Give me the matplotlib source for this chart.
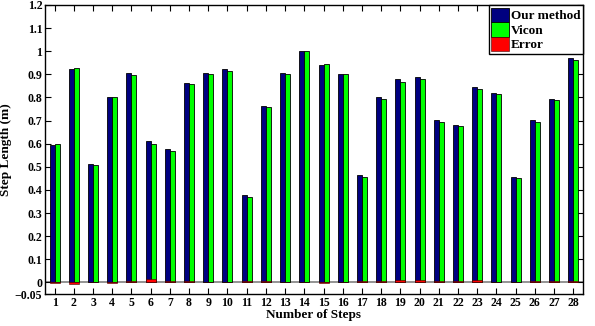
import numpy as np
import matplotlib.pyplot as plt

# Datos
pasos = list(range(1, 29))
our_method = [0.595, 0.922, 0.512, 0.800, 0.905, 0.610, 0.575, 0.862, 0.905, 0.922,
              0.378, 0.763, 0.905, 1.000, 0.940, 0.902, 0.465, 0.800, 0.878, 0.890,
              0.702, 0.682, 0.845, 0.820, 0.458, 0.702, 0.792, 0.970]
vicon = [0.598, 0.928, 0.510, 0.800, 0.895, 0.597, 0.570, 0.857, 0.900, 0.915,
         0.370, 0.757, 0.900, 1.000, 0.943, 0.902, 0.458, 0.793, 0.867, 0.880,
         0.695, 0.675, 0.835, 0.815, 0.453, 0.692, 0.787, 0.962]
error = [-0.003, -0.006, 0.002, -0.002, 0.008, 0.013, 0.006, 0.006, 0.004, 0.004,
         0.008, 0.006, 0.003, 0.000, -0.003, 0.000, 0.008, 0.007, 0.012, 0.010,
         0.008, 0.007, 0.011, 0.004, 0.004, 0.008, 0.008, 0.008]
yticks = [-0.05, 0, 0.1, 0.2, 0.3, 0.4, 0.5, 0.6, 0.7, 0.8, 0.9, 1.0, 1.1, 1.2]
ytick_labels = ['\u22120.05', '0', '0.1', '0.2', '0.3', '0.4', '0.5', '0.6', '0.7',
                '0.8', '0.9', '1', '1.1', '1.2']

plt.rcParams['font.family'] = ['Liberation Serif', 'DejaVu Serif']
plt.rcParams['font.weight'] = 'bold'

fig = plt.figure(figsize=(5.95, 3.26), dpi=100)
ax = fig.add_axes([0.0756, 0.098, 0.904, 0.887])

x = np.array(pasos)
w = 0.26
ax.axhline(0, color='#808080', lw=1.2, zorder=1)
ax.bar(x - w / 2, our_method, w, color='#000080', edgecolor='black', lw=0.6,
       label='Our method', zorder=2)
ax.bar(x + w / 2, vicon, w, color='#00ff00', edgecolor='black', lw=0.6,
       label='Vicon', zorder=2)
ax.bar(x, error, 0.52, color='#ff0000', edgecolor='#400000', lw=0.4,
       label='Error', zorder=3)

ax.set_xlim(0.5, 28.5)
ax.set_ylim(-0.05, 1.2)
ax.set_xticks(pasos)
ax.set_yticks(yticks)
ax.set_yticklabels(ytick_labels)
ax.tick_params(direction='in', top=True, right=True, labelsize=8.5, length=4, pad=2)
for lab in ax.get_xticklabels() + ax.get_yticklabels():
    lab.set_fontweight('bold')

ax.set_xlabel('Number of Steps', fontsize=9.5, fontweight='bold', labelpad=0)
ax.set_ylabel('Step Length (m)', fontsize=9.5, fontweight='bold', labelpad=2)

leg = ax.legend(loc='upper right', borderaxespad=0.0, fancybox=False,
                edgecolor='black', framealpha=1, handlelength=1.3, handleheight=1.3,
                handletextpad=0.15, borderpad=0.2, labelspacing=0.0,
                prop={'weight': 'bold', 'size': 9.5})
leg.get_frame().set_linewidth(1.0)

for s in ax.spines.values():
    s.set_linewidth(1.0)

fig.savefig('out.png', dpi=100)
